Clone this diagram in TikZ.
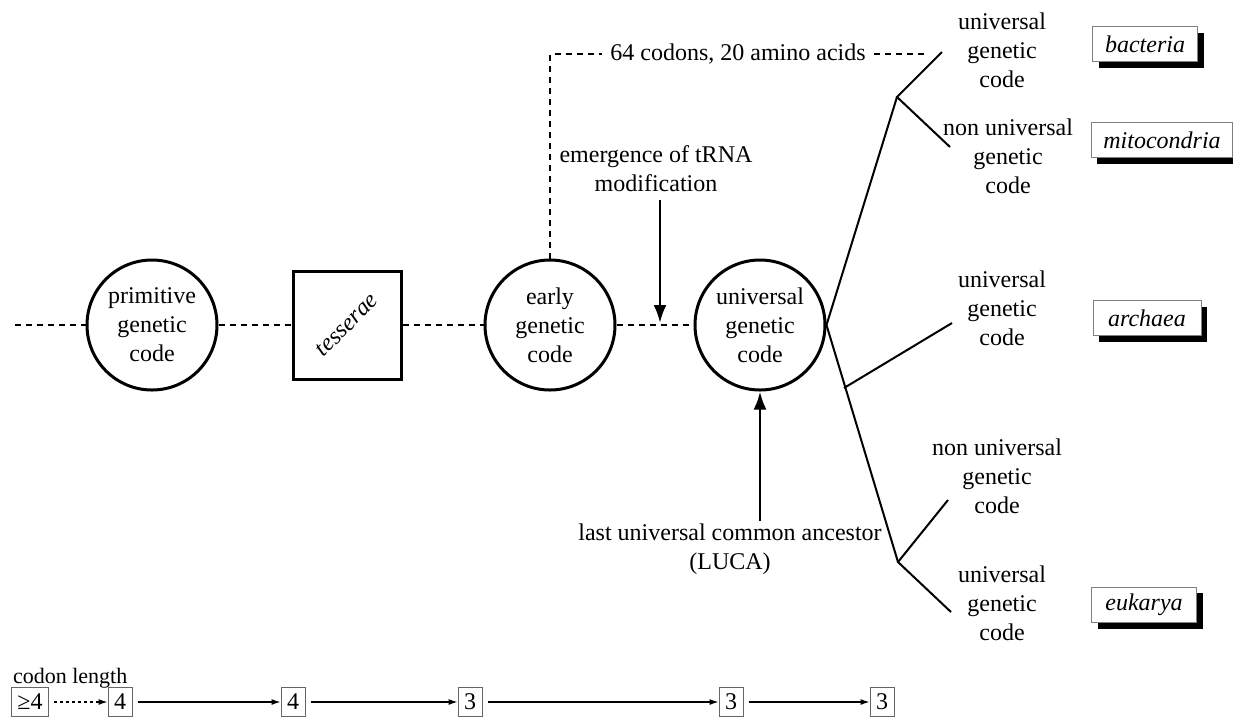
\documentclass[tikz,border=0pt]{standalone}
\usepackage{fontspec}
\setmainfont{Liberation Serif}
\usetikzlibrary{arrows.meta,shadows}
\begin{document}
\begin{tikzpicture}[x=0.5pt, y=-0.5pt, font=\fontsize{12}{14.5}\selectfont,
  stage/.style={circle, draw, line width=1.5pt, minimum size=65pt, inner sep=0pt, align=center},
  dashlink/.style={dash pattern=on 3pt off 2.5pt, line width=0.7pt},
  twig/.style={line width=1pt},
  note/.style={align=center, inner sep=1pt},
  kingdom/.style={draw=gray, line width=0.5pt, fill=white, font=\fontsize{12}{14.5}\selectfont\itshape,
    minimum height=17.5pt, inner xsep=6pt, general shadow={fill=black, shadow xshift=3pt, shadow yshift=-3pt}},
  lenbox/.style={draw=gray!80!black, line width=0.5pt, minimum height=14pt, minimum width=12pt, inner xsep=3pt},
  eventarrow/.style={-{Latex[length=9pt, width=6.5pt]}, line width=1.4pt},
  lenarrow/.style={-{Latex[length=4.5pt, width=3pt]}, line width=0.6pt, shorten <=2.5pt}]
\useasboundingbox (0,0) rectangle (1233,720);
% main line of stages
\coordinate (start) at (15,325);
\node[stage] (prim) at (152,325) {primitive\\genetic\\code};
\node[draw, line width=1.5pt, minimum size=54pt] (tess) at (347,325) {};
\node[rotate=45, font=\fontsize{12}{14.5}\selectfont\itshape] (tesstext) at (tess.center) {tesserae};
\node[stage] (early) at (550,325) {early\\genetic\\code};
\node[stage] (univ) at (760,325) {universal\\genetic\\code};
\draw[dashlink] (start) -- (prim) -- (tess) -- (early) -- (univ);
% codons branch
\coordinate (corner) at (550,54);
\node[inner xsep=4pt] (codons) at (738,54) {64 codons, 20 amino acids};
\coordinate (codonsend) at (925,54);
\draw[dashlink] (early.north) -- (corner) -- (codons.west);
\draw[dashlink] (codons.east) -- (codonsend);
% events
\node[note] (trna) at (656,169) {emergence of tRNA\\modification};
\coordinate (trnatip) at (660,323);
\draw[eventarrow, shorten <=3pt] (trna.south -| trnatip) -- (trnatip);
\node[note] (luca) at (730,549) {last universal common ancestor\\(LUCA)};
\draw[eventarrow] (luca.north -| univ.south) -- (univ.south);
% tree
\coordinate (j1) at (897,97);
\coordinate (j2) at (898,562);
\coordinate (ja) at (844,388);
\coordinate (e1) at (942,52);
\coordinate (e2) at (950,147);
\coordinate (e3) at (952,323);
\coordinate (e4) at (948,500);
\coordinate (e5) at (951,612);
\draw[twig] (j1) -- (univ.east) -- (j2);
\draw[twig] (e1) -- (j1) -- (e2);
\draw[twig] (ja) -- (e3);
\draw[twig] (e4) -- (j2) -- (e5);
\node[note] (g1) at (1002,50) {universal\\genetic\\code};
\node[note] (g2) at (1008,156) {non universal\\genetic\\code};
\node[note] (g3) at (1002,308) {universal\\genetic\\code};
\node[note] (g4) at (997,476) {non universal\\genetic\\code};
\node[note] (g5) at (1002,603) {universal\\genetic\\code};
% domains
\node[kingdom, minimum width=52.5pt] (bac) at (1145,44) {bacteria};
\node[kingdom] (mito) at (1162,140) {mitocondria};
\node[kingdom, minimum width=54pt] (arch) at (1147,318) {archaea};
\node[kingdom, minimum width=52.5pt] (euk) at (1144,605) {eukarya};
% codon length
\node[anchor=west, font=\fontsize{11}{13}\selectfont] (clen) at (6,678) {codon length};
\foreach \i/\x/\v in {0/30/≥4, 1/120/4, 2/293/4, 3/470/3, 4/731/3, 5/882/3}
  \node[lenbox] (c\i) at (\x,702) {\v};
\draw[lenarrow, dash pattern=on 1.5pt off 1.5pt] (c0) -- (c1);
\foreach \i in {2,3,4,5}
  {\pgfmathsetmacro\j{int(\i - 1)}
  \draw[lenarrow] (c\j) -- (c\i);};
\end{tikzpicture}
\end{document}
